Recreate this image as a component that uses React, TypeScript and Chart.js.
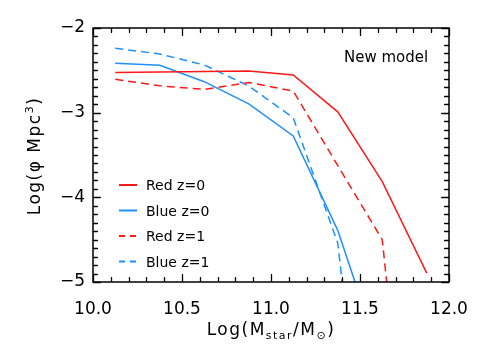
import React, { useEffect, useRef } from 'react';
import { Chart, registerables } from 'chart.js';

Chart.register(...registerables);

// ---- data ----
const massBins = [10.125, 10.375, 10.625, 10.875, 11.125, 11.375, 11.625, 11.875];
const redZ0 = [-2.527, -2.52, -2.515, -2.508, -2.555, -2.99, -3.815, -4.896];
const blueZ0 = [-2.417, -2.44, -2.634, -2.895, -3.275, -4.39, -5.96, null];
const redZ1 = [-2.606, -2.683, -2.725, -2.643, -2.745, -3.625, -4.5, -9.5];
const blueZ1 = [-2.24, -2.307, -2.437, -2.685, -3.06, -4.54, -9.2, null];
const seriesLabels = ['Red z=0', 'Blue z=0', 'Red z=1', 'Blue z=1'];
const xTicks = [10.0, 10.5, 11.0, 11.5, 12.0];
const yTicks = [-2, -3, -4, -5];
const annotationText = 'New model';

const RED = 'rgb(255,25,25)';
const BLUE = 'rgb(30,144,255)';
const FONT = '"DejaVu Sans", sans-serif';

type Run = { text: string; size: number; dy: number };

function drawRuns(ctx: CanvasRenderingContext2D, runs: Run[], cx: number, baseY: number, spacing: number) {
  let total = 0;
  const widths = runs.map((r) => {
    ctx.font = `${r.size}px ${FONT}`;
    (ctx as any).letterSpacing = `${spacing}px`;
    const w = ctx.measureText(r.text).width;
    total += w;
    return w;
  });
  let x = cx - total / 2;
  runs.forEach((r, i) => {
    ctx.font = `${r.size}px ${FONT}`;
    (ctx as any).letterSpacing = `${spacing}px`;
    ctx.fillText(r.text, x, baseY + r.dy);
    x += widths[i];
  });
  (ctx as any).letterSpacing = '0px';
}

const framePlugin = {
  id: 'frameAndDecor',
  afterDraw(chart: any) {
    const { ctx, chartArea } = chart;
    const { left, right, top, bottom } = chartArea;
    const xs = chart.scales.x;
    const ys = chart.scales.y;
    ctx.save();
    ctx.setLineDash([]);
    ctx.strokeStyle = '#000';
    ctx.lineWidth = 1.5;
    ctx.strokeRect(left, top, right - left, bottom - top);

    const x0 = xTicks[0];
    const y0 = yTicks[yTicks.length - 1];
    const xLen = (i: number) => (i % 5 === 0 ? 7 : 4);
    const yLen = (i: number) => (i % 10 === 0 ? 7 : 4);

    // tick marks on all four sides, stroked and filled
    ctx.strokeStyle = '#000';
    ctx.fillStyle = '#000';
    ctx.lineWidth = 1.3;
    ctx.beginPath();
    for (let i = 0; i <= 30; i++) {
      const py = Math.round(ys.getPixelForValue(y0 + i * 0.1)) + 0.5;
      ctx.moveTo(left, py);
      ctx.lineTo(left + yLen(i) + 0.5, py);
      ctx.moveTo(right, py);
      ctx.lineTo(right - yLen(i) - 0.5, py);
    }
    for (let i = 0; i <= 20; i++) {
      const px = Math.round(xs.getPixelForValue(x0 + i * 0.1)) + 0.5;
      ctx.moveTo(px, bottom);
      ctx.lineTo(px, bottom - xLen(i) - 0.5);
      ctx.moveTo(px, top);
      ctx.lineTo(px, top + xLen(i) + 0.5);
    }
    ctx.stroke();
    for (let i = 0; i <= 30; i++) {
      const py = Math.round(ys.getPixelForValue(y0 + i * 0.1));
      ctx.fillRect(left, py, yLen(i) + 1, 1);
      ctx.fillRect(right - yLen(i) - 1, py, yLen(i) + 1, 1);
    }
    for (let i = 0; i <= 20; i++) {
      const px = Math.round(xs.getPixelForValue(x0 + i * 0.1));
      ctx.fillRect(px, bottom - xLen(i) - 1, 1, xLen(i) + 1);
      ctx.fillRect(px, top, 1, xLen(i) + 1);
    }

    // legend
    const lx0 = left + 26;
    const lx1 = left + 44;
    const tx = left + 53;
    chart.data.datasets.forEach((ds: any, i: number) => {
      const y = 185 + i * 25.5;
      ctx.beginPath();
      ctx.strokeStyle = ds.borderColor;
      ctx.lineWidth = 2;
      ctx.setLineDash(ds.borderDash && ds.borderDash.length ? [6, 5] : []);
      ctx.moveTo(lx0, y);
      ctx.lineTo(lx1, y);
      ctx.stroke();
      ctx.setLineDash([]);
      ctx.fillStyle = '#000';
      ctx.font = `14px ${FONT}`;
      ctx.textAlign = 'left';
      ctx.textBaseline = 'alphabetic';
      ctx.fillText(ds.label, tx, y + 5);
    });

    // annotation
    ctx.fillStyle = '#000';
    ctx.font = `15px ${FONT}`;
    ctx.textAlign = 'left';
    ctx.textBaseline = 'alphabetic';
    ctx.fillText(annotationText, 344, 62);

    // x title
    ctx.textAlign = 'left';
    drawRuns(
      ctx,
      [
        { text: 'Log(M', size: 17, dy: 0 },
        { text: 'star', size: 11, dy: 4 },
        { text: '/M', size: 17, dy: 0 },
        { text: '\u2299', size: 11, dy: 4 },
        { text: ')', size: 17, dy: 0 },
      ],
      (left + right) / 2,
      335,
      1.5
    );

    // y title
    ctx.save();
    ctx.translate(40, 156);
    ctx.rotate(-Math.PI / 2);
    drawRuns(
      ctx,
      [
        { text: 'Log(\u03C6 Mpc', size: 17, dy: 0 },
        { text: '3', size: 11, dy: -7 },
        { text: ')', size: 17, dy: 0 },
      ],
      0,
      0,
      1.5
    );
    ctx.restore();
    ctx.restore();
  },
};

function mkData(ys: (number | null)[]) {
  return massBins.map((x, i) => ({ x, y: ys[i] }));
}

export default function App() {
  const ref = useRef<HTMLCanvasElement | null>(null);
  useEffect(() => {
    if (!ref.current) return;
    const colors = [RED, BLUE, RED, BLUE];
    const values = [redZ0, blueZ0, redZ1, blueZ1];
    const chart = new Chart(ref.current, {
      type: 'line',
      data: {
        datasets: values.map((v, i) => ({
          label: seriesLabels[i],
          data: mkData(v),
          borderColor: colors[i],
          backgroundColor: colors[i],
          borderWidth: 1.5,
          borderDash: i >= 2 ? [8, 5] : [],
          pointRadius: 0,
          tension: 0,
          fill: false,
        })),
      },
      options: {
        responsive: false,
        animation: false,
        layout: { padding: { left: 0, top: 28, right: 39, bottom: 0 } },
        plugins: { legend: { display: false }, tooltip: { enabled: false }, title: { display: false } },
        scales: {
          x: {
            type: 'linear',
            min: 10,
            max: 12,
            afterBuildTicks: (s: any) => {
              s.ticks = xTicks.map((value) => ({ value }));
            },
            afterFit: (s: any) => {
              s.height = 67;
            },
            ticks: {
              color: '#000',
              font: { family: FONT, size: 17 },
              padding: 17,
              maxRotation: 0,
              autoSkip: false,
              callback: (v: any) => Number(v).toFixed(1),
            },
            grid: { display: false, drawTicks: false },
            border: { display: false },
          },
          y: {
            type: 'linear',
            min: -5,
            max: -2,
            afterBuildTicks: (s: any) => {
              s.ticks = yTicks.map((value) => ({ value }));
            },
            afterFit: (s: any) => {
              s.width = 93;
            },
            ticks: {
              color: '#000',
              font: { family: FONT, size: 17 },
              padding: 8,
              autoSkip: false,
              callback: (v: any) => (Number(v) < 0 ? '\u2212' + Math.abs(Number(v)) : String(v)),
            },
            grid: { display: false, drawTicks: false },
            border: { display: false },
          },
        },
      },
      plugins: [framePlugin],
    });
    return () => chart.destroy();
  }, []);
  return (
    <div style={{ position: 'absolute', left: 0, top: 0, width: 488, height: 349, background: '#fff' }}>
      <canvas ref={ref} width={488} height={349} style={{ width: 488, height: 349, display: 'block' }} />
    </div>
  );
}
